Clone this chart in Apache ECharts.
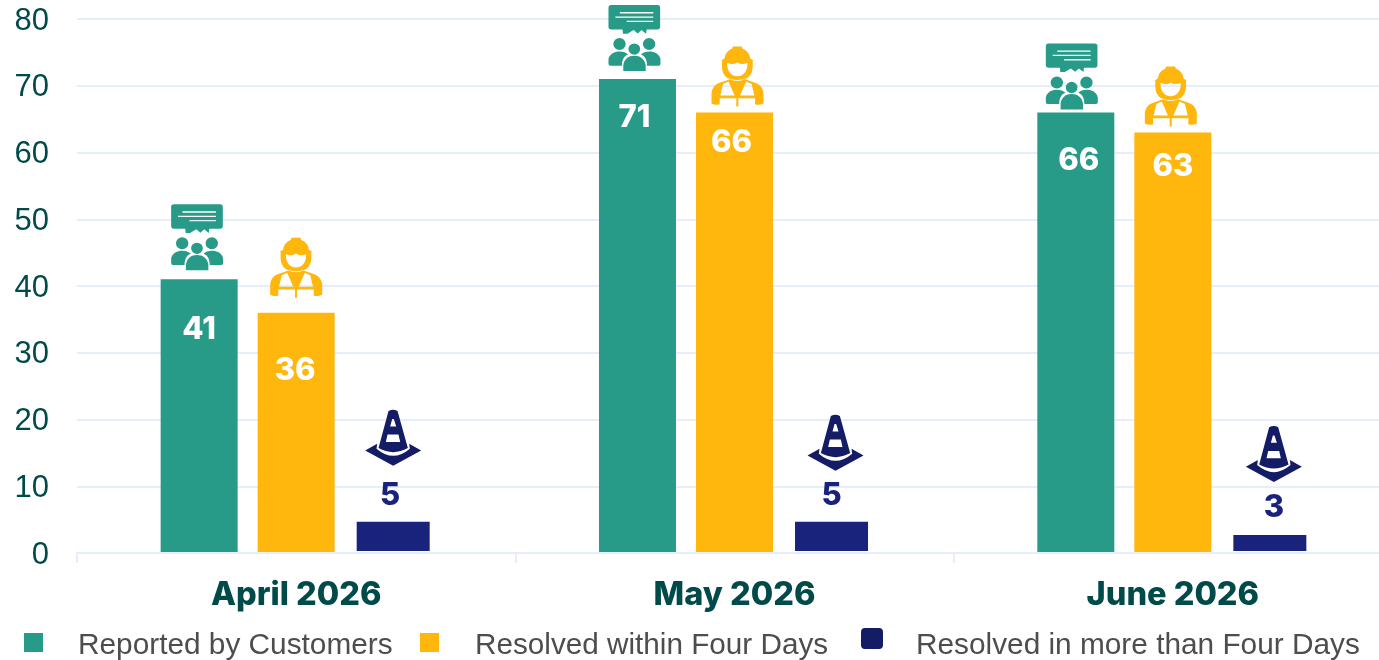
<!DOCTYPE html>
<html>
<head>
<meta charset="utf-8">
<style>html,body{margin:0;padding:0;background:#fff}#c{width:1379px;height:660px}</style>
<script src="https://cdn.jsdelivr.net/npm/echarts@6/dist/echarts.min.js"></script>
</head>
<body>
<div id="c"></div>
<script>
const categories = ['April 2026', 'May 2026', 'June 2026'];
const yTicks = [0, 10, 20, 30, 40, 50, 60, 70, 80];
const reported = [41, 71, 66];
const withinFour = [36, 66, 63];
const moreThanFour = [5, 5, 3];
const seriesNames = ['Reported by Customers', 'Resolved within Four Days', 'Resolved in more than Four Days'];

const INK = '#004a4a', GRID = '#e6eefb';
const GREEN = '#279b88', AMBER = '#ffb60d', NAVY = '#1a237c', NAVY2 = '#141c66';
const LABEL_FONT = 'Inter', BODY_FONT = '"Liberation Sans"';

const peoplePath = 'path://M75 42H209Q217 42 217 50V107Q217 115 209 115H178L176 128L163 117L152 127L140 117L122 128L109 128L108 115H75Q67 115 67 107V50Q67 42 75 42Z' +
  'M197 63H100V67H197ZM197 76H87V80H197ZM197 89H120V93H197Z' +
  'M81 159A18 18 0 1 1 117 159A18 18 0 1 1 81 159Z' +
  'M167 159A18 18 0 1 1 203 159A18 18 0 1 1 167 159Z' +
  'M125 174A17 17 0 1 1 159 174A17 17 0 1 1 125 174Z' +
  'M67 204C70 188 85 181 99 181C110 181 118 184 124 190C110 196 106 208 106 224H72Q67 224 67 218Z' +
  'M218 204C215 188 200 181 186 181C175 181 167 184 161 190C175 196 179 208 179 224H213Q218 224 218 218Z' +
  'M110 240V222C113 204 125 194 142 194C159 194 172 204 175 222V240Z';

const workerPath = 'path://M393 186L402 180Q404 160 425 150L427 144H453L455 150Q476 160 478 180L487 186L484 190H396Z' +
  'M395 190H485C487 215 482 230 468 240Q440 250 412 240C398 230 393 215 395 190Z' +
  'M410 194C410 222 424 234 440 234C456 234 470 222 470 194Q450 201 440 192Q430 201 410 194Z' +
  'M364 316V285C366 268 375 258 390 253L418 243Q440 254 462 243L490 253C505 258 515 268 517 285V316Q503 322 492 318V300H443V325H437V300H388V318Q375 322 364 316Z' +
  'M398 257L390 292H432L414 250Z' +
  'M466 250L448 292H490L482 257Z';

const conePath = 'path://M118 38Q132 30 145 38L176 148Q132 172 88 148Z' +
  'M123 84L141 84L134 62L129 62Z' +
  'M110 130L153 130L148 108L115 108Z' +
  'M48 155L84 135L82 150Q132 192 182 150L180 135L216 155L132 200Z';

// legend swatches: a zero-area tail lifts the swatch relative to the legend text
const swatchSquare = 'path://M0 0H19V19H0ZM0 26L0 26Z';
const swatchRound = 'path://M4 0H18Q22 0 22 4V17Q22 21 18 21H4Q0 21 0 17V4Q0 0 4 0ZM0 36L0 36Z';

// layout tweaks, one per category
const greenLabelShift = [[0, 35], [-3, 23], [3, 33]];
const amberLabelShift = [[-1, 42], [-3, 15], [0, 19]];
const navyLabelShift = [[-3, -3], [0, -3], [4, -5]];
const greenIconShift = [[-2, -42], [-3, -41], [-4, -36]];
const amberIconShift = [[0, -45], [3, -36], [-2, -36]];
const navyIconShift = [[0, -82], [4, -77], [4, -79]];

function barData(values, shifts) {
  return values.map((v, i) => ({ value: v, label: { offset: shifts[i] } }));
}
function iconData(values, shifts) {
  return values.map((v, i) => ({ coord: [categories[i], v], symbolOffset: shifts[i] }));
}
function barSeries(name, values, style, labelColor, position, labelShift, icon, size, iconColor, iconShift) {
  return {
    type: 'bar', name: name, barWidth: 77, barGap: '26%',
    itemStyle: style,
    label: { show: true, position: position, distance: position === 'top' ? 5 : 0, color: labelColor,
             fontFamily: LABEL_FONT, fontWeight: 800, fontSize: 31 },
    data: barData(values, labelShift),
    markPoint: { silent: true, animation: false, symbol: icon, symbolSize: size,
                 itemStyle: { color: iconColor, borderWidth: 0 }, label: { show: false },
                 data: iconData(values, iconShift) },
    emphasis: { disabled: true }
  };
}
function legendFor(name, left, top, w, h, icon, color, pad, size) {
  return { left: left, top: top, itemWidth: w, itemHeight: h, icon: icon, selectedMode: false, padding: 0,
    data: [{ name: name, itemStyle: { color: color, borderWidth: 0 } }],
    textStyle: { color: '#4d4d4d', fontFamily: BODY_FONT, fontSize: size, padding: pad } };
}

const chart = echarts.init(document.getElementById('c'), null, { renderer: 'canvas' });
chart.setOption({
  animation: false,
  backgroundColor: '#fff',
  grid: { left: 77, width: 1315, top: 19, bottom: 107, containLabel: false, outerBoundsMode: 'none' },
  legend: [
    legendFor(seriesNames[0], 24, 631, 19, 26, swatchSquare, GREEN, [0, 0, 0, 30], 29.8),
    legendFor(seriesNames[1], 420, 631, 19, 26, swatchSquare, AMBER, [0, 0, 0, 31], 29.7),
    legendFor(seriesNames[2], 861, 628, 22, 36, swatchRound, NAVY2, [0, 0, 0, 28], 29.8)
  ],
  xAxis: {
    type: 'category', data: categories, z: 3,
    axisLine: { lineStyle: { color: GRID, width: 2 } },
    axisTick: { show: true, length: 10, lineStyle: { color: GRID, width: 2 } },
    axisLabel: { color: INK, fontFamily: LABEL_FONT, fontWeight: 800, fontSize: 32.5, margin: 26 }
  },
  yAxis: {
    type: 'value', min: yTicks[0], max: yTicks[yTicks.length - 1], interval: 10,
    axisLine: { show: false }, axisTick: { show: false },
    splitLine: { lineStyle: { color: GRID, width: 2 } },
    axisLabel: { color: INK, fontFamily: BODY_FONT, fontSize: 31, margin: 28, verticalAlign: 'top', lineHeight: 4 }
  },
  series: [
    barSeries(seriesNames[0], reported, { color: GREEN }, '#fff', 'insideTop', greenLabelShift, peoplePath, [52, 66], GREEN, greenIconShift),
    barSeries(seriesNames[1], withinFour, { color: AMBER }, '#fff', 'insideTop', amberLabelShift, workerPath, [52, 60], AMBER, amberIconShift),
    barSeries(seriesNames[2], moreThanFour, { color: NAVY, borderColor: '#fff', borderWidth: 2 }, NAVY, 'top', navyLabelShift, conePath, [56, 56], NAVY2, navyIconShift)
  ]
});
</script>
</body>
</html>
